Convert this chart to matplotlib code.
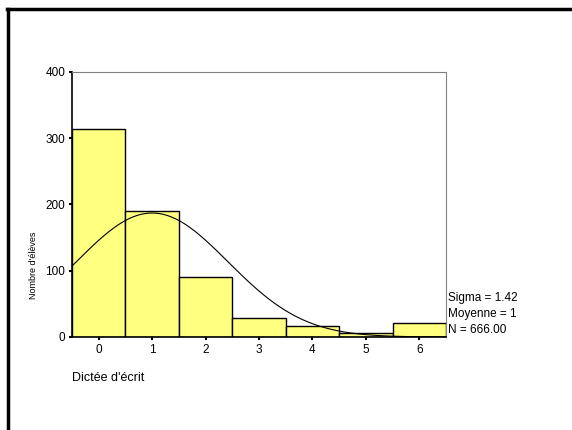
import matplotlib.pyplot as plt
import numpy as np

plt.rcParams['font.family'] = ['Liberation Sans', 'DejaVu Sans']

# histogram data
scores = [0, 1, 2, 3, 4, 5, 6]
counts = [314, 190, 90, 29, 16, 6, 21]
sigma = 1.42
moyenne = 1
n_total = 666.00
stats_lines = ["Sigma = 1.42", "Moyenne = 1", "N = 666.00"]

fig = plt.figure(figsize=(5.72, 4.30), dpi=100)

# outer frame (only left / top visible)
fig.add_artist(plt.Line2D([0.014, 0.014], [0.0, 0.979], color='black', lw=2.5,
                          transform=fig.transFigure))
fig.add_artist(plt.Line2D([0.012, 1.0], [0.979, 0.979], color='black', lw=2.5,
                          transform=fig.transFigure))

ax = fig.add_axes([0.1259, 0.2163, 0.6538, 0.6163])
ax.bar(scores, counts, width=1.0, color='#ffff80', edgecolor='black', linewidth=1.0)

# fitted normal curve
xs = np.linspace(-0.5, 6.5, 300)
ys = n_total / (sigma * np.sqrt(2 * np.pi)) * np.exp(-0.5 * ((xs - moyenne) / sigma) ** 2)
ax.plot(xs, ys, color='black', lw=0.8)

ax.set_xlim(-0.5, 6.5)
ax.set_ylim(0, 400)
ax.set_xticks(scores)
ax.set_yticks([0, 100, 200, 300, 400])
ax.tick_params(axis='both', labelsize=8.5, length=2, width=1.5, pad=3)
ax.spines['top'].set_color('#808080')
ax.spines['right'].set_color('#808080')
ax.spines['left'].set_linewidth(1.2)
ax.spines['bottom'].set_linewidth(1.2)

fig.text(0.058, 0.383, "Nombre d'élèves", rotation=90, fontsize=6.5,
         ha='center', va='center')
fig.text(0.126, 0.12, "Dictée d'écrit", fontsize=9, ha='left', va='center')

for i, line in enumerate(stats_lines):
    fig.text(0.783, 0.308 - i * 0.038, line, fontsize=8.5, ha='left', va='center')

fig.savefig('out.png', dpi=100)
